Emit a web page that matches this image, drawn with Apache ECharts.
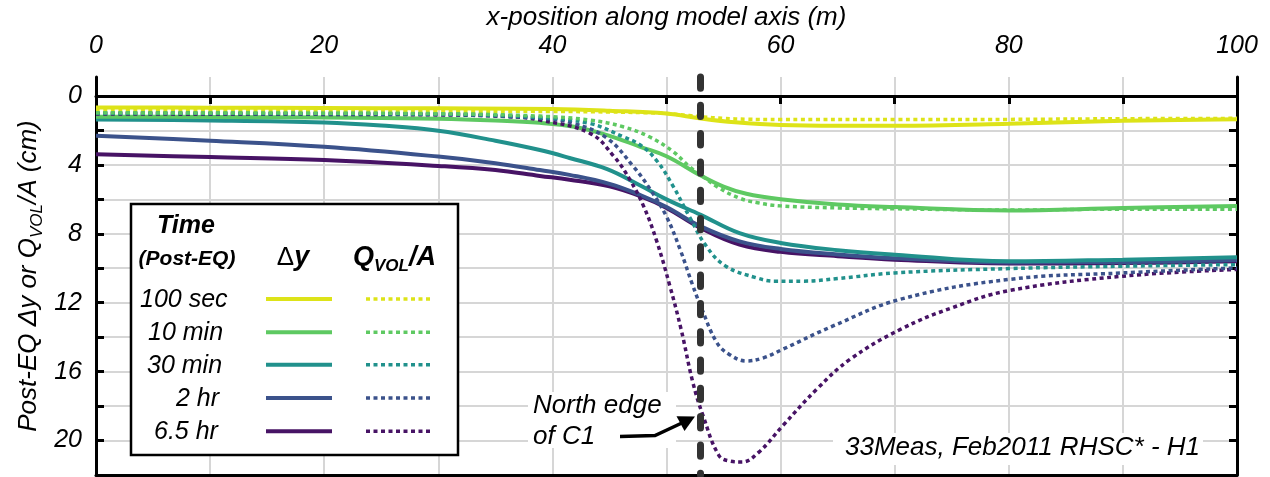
<!DOCTYPE html>
<html><head><meta charset="utf-8">
<script src="https://cdn.jsdelivr.net/npm/echarts@6/dist/echarts.min.js"></script>
<style>html,body{margin:0;padding:0;background:#fff}#c{width:1270px;height:477px}</style>
</head><body><div id="c"></div>
<script>
// ---------- data ----------
const timeLabels = ['100 sec', '10 min', '30 min', '2 hr', '6.5 hr'];
const xTickLabels = [0, 20, 40, 60, 80, 100];
const yLabelValues = [0, 4, 8, 12, 16, 20];
const yTickValues = [0, 2, 4, 6, 8, 10, 12, 14, 16, 18, 20, 22];
const northEdgeX = 53;

// Δy (solid)
const dy_100sec = [[0,0.67],[10,0.68],[20,0.70],[30,0.72],[40,0.76],[45,0.86],[50,1.02],[53,1.31],[56,1.53],[60,1.69],[65,1.73],[70,1.73],[80,1.62],[90,1.44],[100,1.35]];
const dy_10min = [[0,1.2],[10,1.22],[20,1.25],[30,1.32],[35,1.42],[38.9,1.56],[41.9,1.79],[44.8,2.27],[47.7,2.95],[50,3.5],[53,4.62],[55,5.26],[57,5.68],[60,5.99],[65,6.3],[70,6.45],[80,6.65],[90,6.5],[100,6.38]];
const dy_30min = [[0,1.37],[10,1.42],[20,1.54],[25,1.72],[30,2.02],[35,2.6],[38.9,3.14],[41.5,3.6],[44.8,4.25],[47.7,5.2],[50,6.0],[53,6.9],[56.4,7.96],[60,8.53],[65,8.95],[70,9.21],[80,9.6],[90,9.5],[100,9.36]];
const dy_2hr = [[0,2.31],[10,2.6],[20,2.95],[30,3.52],[35,3.9],[38.9,4.3],[41.5,4.58],[45,5.1],[47.7,5.75],[50,6.45],[53,7.57],[56.4,8.44],[60,8.88],[65,9.2],[70,9.42],[80,9.66],[90,9.64],[100,9.52]];
const dy_6_5hr = [[0,3.39],[10,3.55],[20,3.72],[30,4.06],[35,4.3],[38.9,4.64],[41.5,4.86],[45,5.25],[47.7,5.82],[50,6.5],[53,7.67],[56.4,8.63],[60,9.05],[65,9.3],[70,9.5],[80,9.72],[90,9.7],[100,9.6]];

// Q_VOL/A (dotted)
const q_100sec = [[0,0.85],[20,0.86],[30,0.88],[40,0.9],[45,0.93],[48,0.97],[50,1.02],[52,1.14],[53,1.21],[55,1.3],[57,1.35],[60,1.37],[70,1.37],[80,1.36],[90,1.32],[100,1.3]];
const q_10min = [[0,0.98],[20,1.0],[30,1.03],[38.9,1.17],[43.3,1.4],[46.2,1.79],[48.5,2.37],[50.6,3.24],[52,4.1],[53,4.58],[54.5,5.3],[56.4,5.93],[58,6.2],[60,6.38],[65,6.5],[70,6.55],[80,6.62],[90,6.57],[100,6.57]];
const q_30min = [[0,1.0],[20,1.02],[30,1.05],[38.9,1.25],[43.3,1.6],[46.2,2.37],[47.7,2.85],[49.1,3.72],[50.6,5.26],[52,7.0],[53.5,8.73],[55.2,9.88],[57.9,10.56],[59.5,10.75],[62,10.75],[65,10.6],[70,10.27],[80,10.02],[90,9.88],[100,9.79]];
const q_2hr = [[0,1.02],[20,1.04],[30,1.08],[38.9,1.3],[41.9,1.6],[44.8,2.46],[47.1,4.1],[48.6,5.45],[50,7.0],[51.2,8.92],[52.3,11.0],[53,12.2],[54.4,14.3],[55.5,15.0],[57,15.38],[58.5,15.2],[60.2,14.7],[64.6,13.35],[70.5,11.8],[80,10.65],[90,10.27],[100,9.98]];
const q_6_5hr = [[0,1.05],[20,1.07],[30,1.1],[36,1.2],[38.9,1.4],[43.3,2.17],[45.4,3.52],[46.8,4.87],[48,6.41],[49.1,8.34],[50.3,11.04],[51.3,13.6],[52.3,16.6],[53.2,18.55],[54.6,20.87],[55.6,21.2],[56.6,21.25],[58.1,20.67],[60.2,19.13],[63.2,17.0],[66.1,15.28],[70.5,13.55],[75,12.3],[80,11.3],[90,10.46],[100,10.07]];

// ---------- styling ----------
const colors = ['#dde318', '#5ec962', '#21918c', '#3b528b', '#471365'];
const FONT = '"Liberation Sans", Arial, Helvetica, sans-serif';
const GRID_COLOR = '#d6d6d6';
const dySets = [dy_100sec, dy_10min, dy_30min, dy_2hr, dy_6_5hr];
const qSets = [q_100sec, q_10min, q_30min, q_2hr, q_6_5hr];
const Y_MIN = -1.1, Y_MAX = 22;
const SMOOTH = 0.4;

const series = [];
for (let i = dySets.length - 1; i >= 0; i--) {
  series.push({
    name: 'Δy ' + timeLabels[i], type: 'line', data: dySets[i],
    showSymbol: false, symbol: 'none', smooth: SMOOTH,
    lineStyle: { color: colors[i], width: 4 }, z: 2
  });
}
const qOrder = [0, 4, 3, 2, 1];
qOrder.forEach(i => {
  series.push({
    name: 'Q ' + timeLabels[i], type: 'line', data: qSets[i],
    showSymbol: false, symbol: 'none', smooth: SMOOTH,
    lineStyle: { color: colors[i], width: 3.5, type: [4, 3.5] }, z: 3
  });
});
series.push({
  name: 'North edge', type: 'line', data: [], z: 6,
  markLine: {
    silent: true, symbol: ['none', 'none'], label: { show: false }, animation: false,
    lineStyle: { color: '#333333', width: 7, type: [11.3, 17], cap: 'round' },
    data: [[{ coord: [northEdgeX, Y_MIN] }, { coord: [northEdgeX, Y_MAX] }]]
  }
});

// legend (graphic table)
const legendRowY = [300, 333.3, 365.7, 399, 432.3];
const legendRowX = [140, 148, 147, 176, 154];
const graphics = [
  { type: 'rect', z: 100, shape: { x: 131, y: 204, width: 327, height: 251 },
    style: { fill: '#fff', stroke: '#000', lineWidth: 2.5 } },
  { type: 'text', z: 101, x: 186, y: 226, style: { text: 'Time', font: 'italic bold 25px ' + FONT, fill: '#000', align: 'center', verticalAlign: 'middle' } },
  { type: 'text', z: 101, x: 187, y: 259, style: { text: '(Post-EQ)', font: 'italic bold 21px ' + FONT, fill: '#000', align: 'center', verticalAlign: 'middle' } },
  { type: 'text', z: 101, x: 293, y: 258, style: { text: '{d|Δ}{y|y}', align: 'center', verticalAlign: 'middle',
      rich: { d: { font: '26px ' + FONT, fill: '#000' }, y: { font: 'italic bold 27px ' + FONT, fill: '#000' } } } },
  { type: 'text', z: 101, x: 394.5, y: 258, style: { text: '{q|Q}{s|VOL}{q|/A}', align: 'center', verticalAlign: 'middle',
      rich: { q: { font: 'italic bold 27px ' + FONT, fill: '#000', lineHeight: 34 },
              s: { font: 'italic bold 17px ' + FONT, fill: '#000', verticalAlign: 'bottom', lineHeight: 17 } } } }
];
timeLabels.forEach((t, i) => {
  graphics.push({ type: 'text', z: 101, x: legendRowX[i], y: legendRowY[i],
    style: { text: t, font: 'italic 25px ' + FONT, fill: '#000', align: 'left', verticalAlign: 'middle' } });
  graphics.push({ type: 'line', z: 101, shape: { x1: 266, y1: legendRowY[i] - 1, x2: 332, y2: legendRowY[i] - 1 },
    style: { stroke: colors[i], lineWidth: 4 } });
  graphics.push({ type: 'line', z: 101, shape: { x1: 366, y1: legendRowY[i] - 1, x2: 432, y2: legendRowY[i] - 1 },
    style: { stroke: colors[i], lineWidth: 3.5, lineDash: [4, 3.5] } });
});
// annotations
graphics.push(
  { type: 'rect', z: 90, shape: { x: 528, y: 392, width: 148, height: 56 }, style: { fill: '#fff' } },
  { type: 'text', z: 91, x: 533, y: 390, style: { text: 'North edge\nof C1', font: 'italic 26px ' + FONT, fill: '#000', lineHeight: 31, align: 'left', verticalAlign: 'top' } },
  { type: 'polyline', z: 92, shape: { points: [[620, 436.5], [655, 435.5], [684, 422]] }, style: { stroke: '#000', lineWidth: 3.5, fill: null } },
  { type: 'polygon', z: 92, shape: { points: [[695, 416.5], [676.5, 416.2], [684.5, 431]] }, style: { fill: '#000' } },
  { type: 'rect', z: 90, shape: { x: 833, y: 433, width: 370, height: 32 }, style: { fill: '#fff' } },
  { type: 'text', z: 91, x: 1200, y: 448, style: { text: '33Meas, Feb2011 RHSC* - H1', font: 'italic 26px ' + FONT, fill: '#000', align: 'right', verticalAlign: 'middle' } }
);

const chart = echarts.init(document.getElementById('c'), null, { renderer: 'canvas' });
chart.setOption({
  animation: false,
  backgroundColor: '#fff',
  textStyle: { fontFamily: FONT },
  grid: { left: 96, right: 33, top: 77, bottom: 2, containLabel: false, outerBoundsMode: 'none' },
  xAxis: [{
    type: 'value', position: 'top', min: 0, max: 100, interval: 20,
    name: 'x-position along model axis (m)', nameLocation: 'middle', nameGap: 46, nameMoveOverlap: false,
    nameTextStyle: { fontSize: 26, fontStyle: 'italic', color: '#000', fontFamily: FONT },
    axisLine: { show: true, lineStyle: { color: '#000', width: 3 } },
    axisTick: { show: true, inside: true, length: 8, lineStyle: { color: '#000', width: 3 } },
    minorTick: { show: true, splitNumber: 2, length: 8, lineStyle: { color: '#000', width: 3 } },
    axisLabel: { fontSize: 25, fontStyle: 'italic', color: '#000', margin: 18, fontFamily: FONT,
      formatter: v => xTickLabels.includes(v) ? String(v) : '' },
    splitLine: { show: true, lineStyle: { color: GRID_COLOR, width: 2 } },
    minorSplitLine: { show: true, lineStyle: { color: GRID_COLOR, width: 2 } }
  }, {
    type: 'value', position: 'bottom', min: 0, max: 100,
    axisLine: { show: true, onZero: false, lineStyle: { color: '#000', width: 3 } },
    axisTick: { show: false }, axisLabel: { show: false }, splitLine: { show: false }
  }],
  yAxis: [{
    type: 'value', inverse: true, min: Y_MIN, max: Y_MAX, position: 'left',
    name: '{n|Post-EQ Δy or Q}{s|VOL}{n|/A (cm)}', nameLocation: 'middle', nameGap: 50, nameMoveOverlap: false,
    nameTextStyle: { fontSize: 26, fontStyle: 'italic', color: '#000', fontFamily: FONT,
      rich: { n: { fontSize: 26, fontStyle: 'italic', color: '#000', fontFamily: FONT, lineHeight: 34 },
              s: { fontSize: 17, fontStyle: 'italic', color: '#000', fontFamily: FONT, verticalAlign: 'bottom', lineHeight: 17 } } },
    axisLine: { show: true, onZero: false, lineStyle: { color: '#000', width: 3 } },
    axisTick: { show: true, inside: true, length: 8, customValues: yTickValues, lineStyle: { color: '#000', width: 3 } },
    axisLabel: { customValues: yLabelValues, fontSize: 25, fontStyle: 'italic', color: '#000', margin: 14, fontFamily: FONT },
    splitLine: { show: true, lineStyle: { color: GRID_COLOR, width: 2 } }
  }, {
    type: 'value', inverse: true, min: Y_MIN, max: Y_MAX, position: 'right',
    axisLine: { show: true, onZero: false, lineStyle: { color: '#000', width: 3 } },
    axisTick: { show: true, inside: true, length: 8, customValues: yTickValues, lineStyle: { color: '#000', width: 3 } },
    axisLabel: { show: false }, splitLine: { show: false }
  }],
  series: series,
  graphic: graphics
});
</script></body></html>
